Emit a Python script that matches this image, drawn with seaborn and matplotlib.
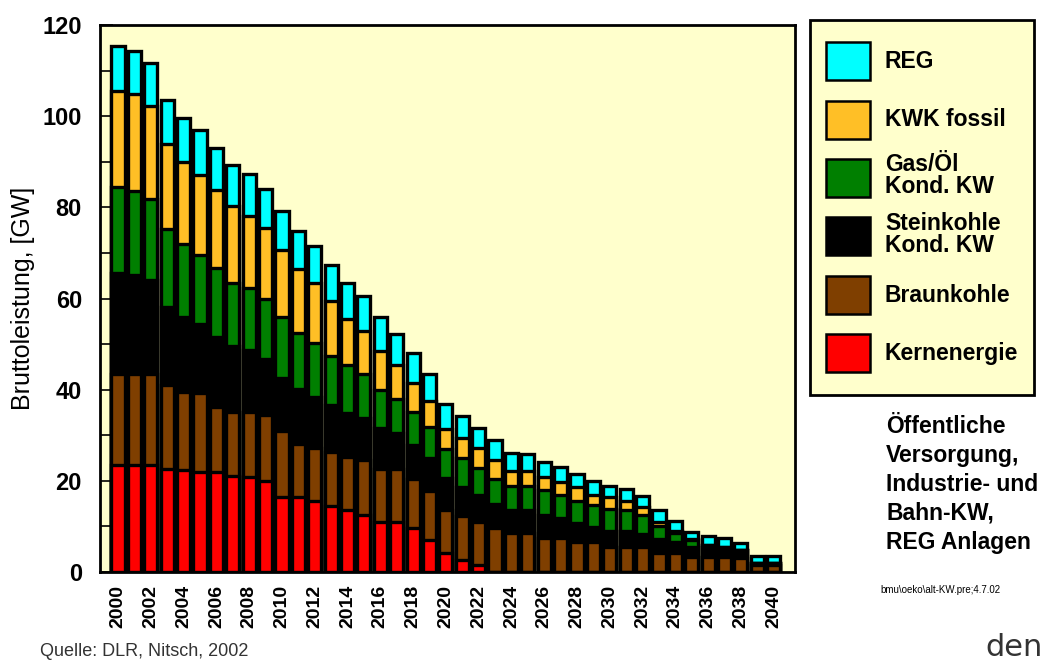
import numpy as np
import seaborn as sns
import matplotlib.pyplot as plt
import matplotlib.patches as mpatches
from matplotlib.legend_handler import HandlerPatch

# Bruttoleistung in GW (bottom -> top of stack)
years = list(range(2000, 2041))
kern = [23.4, 23.4, 23.4, 22.7, 22.4, 21.9, 21.9, 21.1, 20.9, 19.9,
        16.4, 16.4, 15.6, 14.5, 13.6, 12.5, 11.0, 11.0, 9.6, 7.0,
        4.1, 2.6, 1.5, 0, 0, 0, 0, 0, 0, 0,
        0, 0, 0, 0, 0, 0, 0, 0, 0, 0,
        0]
braun = [20.1, 20.1, 20.1, 18.3, 17.1, 17.3, 14.4, 14.1, 14.3, 14.5,
         14.5, 11.7, 11.7, 11.8, 11.7, 12.0, 11.7, 11.7, 10.8, 10.8,
         9.6, 9.7, 9.5, 9.6, 8.5, 8.5, 7.4, 7.4, 6.5, 6.5,
         5.4, 5.4, 5.4, 4.2, 4.2, 3.4, 3.4, 3.2, 3.0, 1.6,
         1.6]
stein = [22.0, 21.7, 20.6, 17.2, 16.4, 15.3, 15.3, 14.3, 13.5, 12.3,
         11.7, 12.1, 11.0, 10.4, 9.5, 9.2, 8.8, 7.7, 7.4, 7.1,
         7.0, 6.4, 5.9, 5.4, 5.1, 5.1, 5.1, 4.4, 4.2, 3.4,
         3.7, 3.7, 2.9, 3.0, 2.4, 2.0, 2.0, 1.8, 1.8, 0.4,
         0.4]
gas = [19.0, 18.4, 17.7, 17.0, 16.0, 15.0, 15.2, 13.9, 13.6, 13.1,
       13.3, 12.3, 11.9, 10.7, 10.7, 9.8, 8.5, 7.5, 7.2, 6.9,
       6.2, 6.2, 6.0, 5.5, 5.2, 5.2, 5.5, 5.1, 4.9, 4.8,
       4.8, 4.5, 4.2, 2.9, 1.9, 1.6, 0.6, 0.5, 0, 0,
       0]
kwk = [21.1, 21.2, 20.5, 18.6, 18.1, 17.6, 17.0, 16.8, 15.8, 15.6,
       14.8, 13.9, 13.2, 12.0, 9.9, 9.4, 8.5, 7.6, 6.5, 5.7,
       4.4, 4.4, 4.2, 4.0, 3.4, 3.4, 2.9, 2.9, 3.0, 2.2,
       2.5, 2.0, 1.8, 0.9, 0.4, 0.2, 0, 0, 0, 0,
       0]
reg = [9.8, 9.4, 9.3, 9.7, 9.5, 9.8, 9.2, 9.1, 9.2, 8.7,
       8.4, 8.4, 8.2, 8.0, 8.0, 7.6, 7.4, 6.8, 6.5, 5.9,
       5.6, 4.9, 4.6, 4.4, 3.9, 3.6, 3.3, 3.3, 3.0, 3.0,
       2.4, 2.5, 2.4, 2.6, 2.2, 1.6, 2.0, 1.9, 1.6, 1.5,
       1.5]

series = [kern, braun, stein, gas, kwk, reg]
names = ["Kernenergie", "Braunkohle", "Steinkohle\nKond. KW", "Gas/Öl\nKond. KW", "KWK fossil", "REG"]
colors = ["#FF0000", "#7F3F00", "#000000", "#007F00", "#FFBF26", "#00FFFF"]

sns.set_theme(style="white")
plt.rcParams["font.family"] = ["Liberation Sans", "DejaVu Sans"]
plt.rcParams.update({"text.color": "black", "axes.labelcolor": "black",
                     "xtick.color": "black", "ytick.color": "black"})

fig = plt.figure(figsize=(10.49, 6.64), dpi=100)
ax = fig.add_axes([100 / 1049, 92 / 664, 695 / 1049, 547 / 664])
ax.set_facecolor("#FFFFCC")

# stacked bars: draw the cumulative totals, tallest first
cum = np.cumsum(np.array(series), axis=0)
for i in range(len(series) - 1, -1, -1):
    sns.barplot(x=years, y=cum[i], color=colors[i], saturation=1, width=0.8,
                edgecolor="black", linewidth=2.4, ax=ax)

ax.set_xlim(-1.1, 41.3)
ax.set_ylim(0, 120)
ax.set_xticks(range(0, 41, 2))
ax.set_xticklabels(years[::2], rotation=90, fontsize=14, fontweight="bold")
ax.set_xticks(range(41), minor=True)
ax.set_yticks(range(0, 121, 20))
ax.set_yticklabels(range(0, 121, 20), fontsize=17, fontweight="bold")
ax.set_yticks(range(0, 121, 10), minor=True)
ax.tick_params(axis="x", which="both", direction="in", bottom=True, length=9,
               width=1, color="#5A1000", labelcolor="black", pad=9)
ax.tick_params(axis="y", which="both", direction="in", left=True, length=9,
               width=1.2, color="black", labelcolor="black", pad=13)
ax.set_xlabel("")
ax.set_ylabel("Bruttoleistung, [GW]", fontsize=18, labelpad=5, color="black")
for sp in ax.spines.values():
    sp.set_color("black")
    sp.set_linewidth(2)


def box_handle(legend, orig_handle, xdescent, ydescent, width, height, fontsize):
    h = height * 0.76
    return mpatches.Rectangle((-xdescent, -ydescent + (height - h) / 2), width, h)


handles = [mpatches.Patch(facecolor=c, edgecolor="black", linewidth=1.8, label=n)
           for c, n in zip(colors, names)][::-1]
leg = fig.legend(handles=handles, loc="upper left", bbox_to_anchor=(810 / 1049, 1 - 20 / 664),
                 prop={"weight": "bold", "size": 16.5}, handlelength=1.92, handleheight=2.98,
                 handletextpad=0.65, labelspacing=0.37, borderpad=0.7, borderaxespad=0,
                 fancybox=False, facecolor="#FFFFCC", edgecolor="black", framealpha=1,
                 labelcolor="black",
                 handler_map={mpatches.Patch: HandlerPatch(patch_func=box_handle)})
leg.get_frame().set_linewidth(2)
for t in leg.get_texts():
    t.set_linespacing(0.95)

fig.text(886 / 1049, 1 - 415 / 664, "Öffentliche\nVersorgung,\nIndustrie- und\nBahn-KW,\nREG Anlagen",
         ha="left", va="top", fontsize=16.5, fontweight="bold", linespacing=1.33)
fig.text(880 / 1049, 1 - 590 / 664, "bmu\\oeko\\alt-KW.pre;4.7.02", ha="left", va="center",
         fontsize=7)
fig.text(40 / 1049, 1 - 652 / 664, "Quelle: DLR, Nitsch, 2002", ha="left", va="center",
         fontsize=13, color="#333333")
fig.text(985 / 1049, 1 - 648 / 664, "den", ha="left", va="center", fontsize=22,
         color="#333333", family="DejaVu Sans")

fig.savefig("out.png", dpi=100)
